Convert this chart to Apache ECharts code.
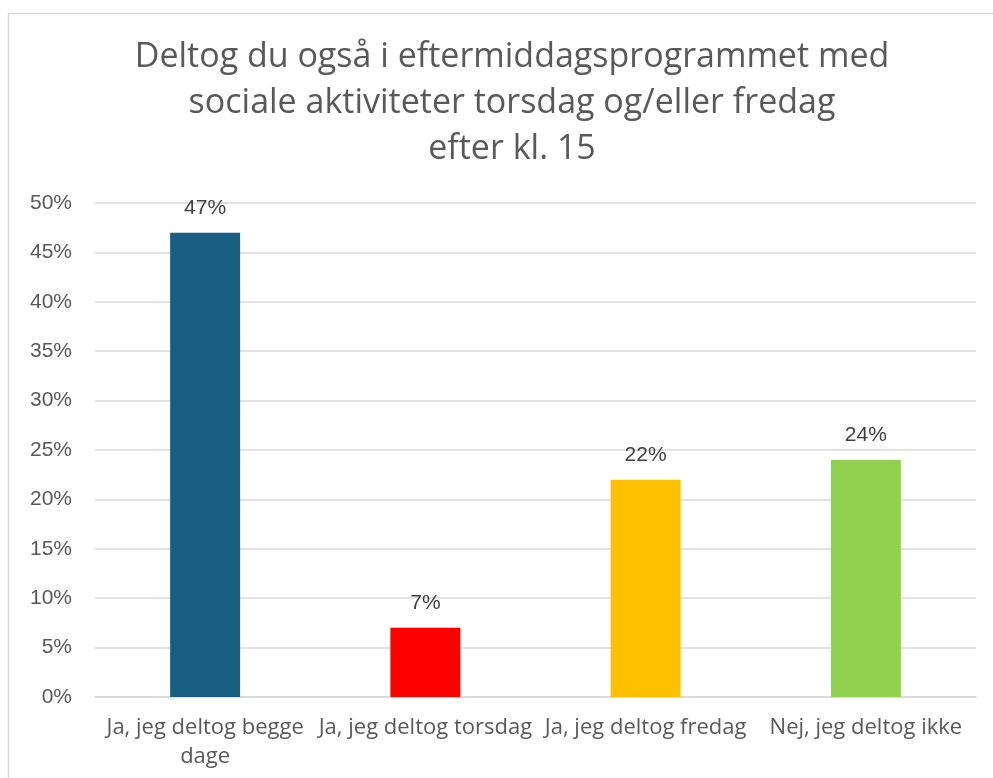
<!DOCTYPE html>
<html><head><meta charset="utf-8">
<script src="https://cdn.jsdelivr.net/npm/echarts@6/dist/echarts.min.js"></script>
<style>html,body{margin:0;padding:0;background:#fff}#c{width:993px;height:778px}</style>
</head><body><div id="c"></div>
<script>
const categories = ['Ja, jeg deltog begge dage', 'Ja, jeg deltog torsdag', 'Ja, jeg deltog fredag', 'Nej, jeg deltog ikke'];
const values = [47, 7, 22, 24];
const colors = ['#175E80', '#FF0000', '#FFC000', '#92D050'];
const titleText = 'Deltog du også i eftermiddagsprogrammet med\nsociale aktiviteter torsdag og/eller fredag\nefter kl. 15';

const chart = echarts.init(document.getElementById('c'), null, {renderer: 'canvas'});
chart.setOption({
  animation: false,
  graphic: [{type: 'rect', shape: {x: 8.5, y: 13.5, width: 1000, height: 800}, style: {fill: 'none', stroke: '#d9d9d9', lineWidth: 1.5}, silent: true}],
  title: {
    text: titleText, left: 507, top: 29, textAlign: 'center',
    textStyle: {fontFamily: 'Open Sans', fontWeight: 'normal', fontSize: 34, color: '#595959', lineHeight: 46}
  },
  grid: {left: 95, right: 17, top: 203, bottom: 81, containLabel: false},
  xAxis: {
    type: 'category', data: categories,
    axisLine: {lineStyle: {color: '#d9d9d9', width: 1.5}},
    axisTick: {show: false},
    axisLabel: {
      interval: 0, color: '#595959', fontFamily: 'Open Sans', fontSize: 22, margin: 16, lineHeight: 29,
      formatter: v => v === categories[0] ? 'Ja, jeg deltog begge\ndage' : v
    }
  },
  yAxis: {
    type: 'value', min: 0, max: 50, interval: 5,
    axisLine: {show: false}, axisTick: {show: false},
    splitLine: {lineStyle: {color: '#d9d9d9', width: 1.5}},
    axisLabel: {formatter: '{value}%', color: '#595959', fontFamily: 'Liberation Sans', fontSize: 21, margin: 23}
  },
  series: [{
    type: 'bar', barWidth: 70,
    data: values.map((v, i) => ({value: v, itemStyle: {color: colors[i]}})),
    label: {show: true, position: 'top', distance: 14, formatter: '{c}%', color: '#404040', fontFamily: 'Liberation Sans', fontSize: 21}
  }]
});
</script></body></html>
